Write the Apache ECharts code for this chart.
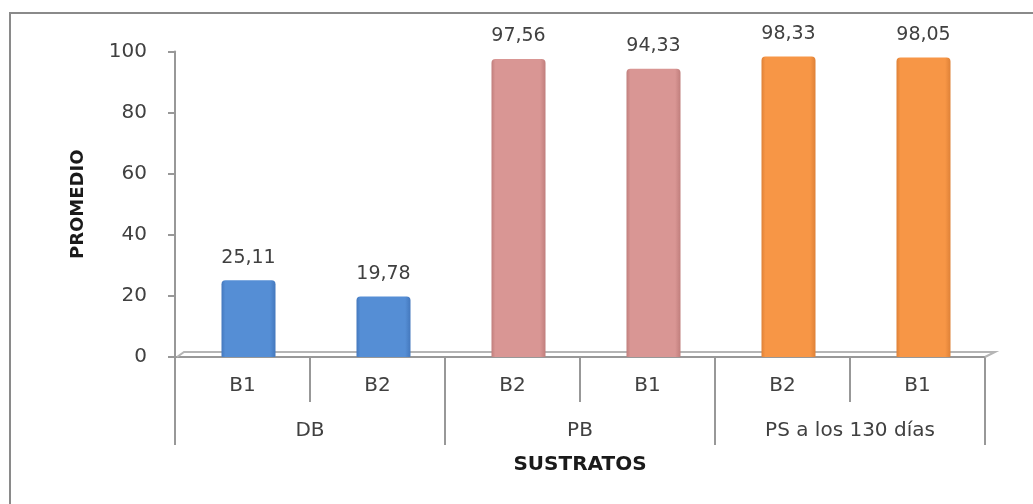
<!DOCTYPE html>
<html>
<head>
<meta charset="utf-8">
<script src="https://cdn.jsdelivr.net/npm/echarts@6/dist/echarts.min.js"></script>
<style>
html,body{margin:0;padding:0;background:#fff;}
#main{width:1033px;height:504px;}
</style>
</head>
<body>
<div id="main"></div>
<script>
// ---- data ----
const groups = ['DB', 'PB', 'PS a los 130 días'];
const subCategories = ['B1', 'B2', 'B2', 'B1', 'B2', 'B1'];
const values = [25.11, 19.78, 97.56, 94.33, 98.33, 98.05];
const barColors = ['#558ED5', '#558ED5', '#D99694', '#D99694', '#F79646', '#F79646'];
const barEdge = ['#4478BD', '#4478BD', '#C07E7C', '#C07E7C', '#DE8137', '#DE8137'];
const yMin = 0, yMax = 100, yInterval = 20;

// ---- layout ----
const G = { left: 175, right: 48, top: 51.5, bottom: 147 };
const W = 1033, H = 504;
const FONT = 'DejaVu Sans';
const TXT = '#404040';
const AX = '#989898';

const chart = echarts.init(document.getElementById('main'));

function grad(i) {
  return new echarts.graphic.LinearGradient(0, 0, 1, 0, [
    { offset: 0, color: barEdge[i] },
    { offset: 0.07, color: barColors[i] },
    { offset: 0.9, color: barColors[i] },
    { offset: 1, color: barEdge[i] }
  ]);
}

const floorY = H - G.bottom;
const xL = G.left, xR = W - G.right;

chart.setOption({
  backgroundColor: '#fff',
  animation: false,
  graphic: [
    { type: 'rect', shape: { x: 10, y: 13, width: 1100, height: 600 },
      style: { fill: 'none', stroke: '#8a8a8a', lineWidth: 2 }, z: -1 },
    { type: 'polyline', shape: { points: [[xL + 2, floorY], [xL + 9, floorY - 5], [xR + 10, floorY - 5], [xR, floorY]] },
      style: { fill: 'none', stroke: '#b5b5b5', lineWidth: 2 }, z: 1 }
  ],
  grid: [
    { left: G.left, right: G.right, top: G.top, bottom: G.bottom },
    { left: G.left + 6, right: G.right - 6, top: G.top, bottom: G.bottom }
  ],
  xAxis: [
    {
      type: 'category', gridIndex: 0, data: subCategories, position: 'bottom',
      axisLine: { show: true, lineStyle: { color: AX, width: 2 } },
      axisTick: { show: true, length: 45, lineStyle: { color: AX, width: 2 } },
      axisLabel: { margin: 19, fontFamily: FONT, fontSize: 20, color: TXT }
    },
    {
      type: 'category', gridIndex: 0, data: groups, position: 'bottom',
      axisLine: { show: false },
      axisTick: { show: true, length: 88, lineStyle: { color: AX, width: 2 } },
      axisLabel: { margin: 64, fontFamily: FONT, fontSize: 20, color: TXT },
      name: 'SUSTRATOS', nameLocation: 'middle', nameGap: 98,
      nameTextStyle: { fontFamily: FONT, fontSize: 20, fontWeight: 'bold', color: '#1a1a1a' }
    },
    {
      type: 'category', gridIndex: 1, data: subCategories, show: false
    }
  ],
  yAxis: [
    {
      type: 'value', gridIndex: 0, min: yMin, max: yMax, interval: yInterval,
      axisLine: { show: true, lineStyle: { color: AX, width: 2 } },
      axisTick: { show: true, length: 7, lineStyle: { color: AX, width: 2 } },
      splitLine: { show: false },
      axisLabel: { margin: 28, fontFamily: FONT, fontSize: 20, color: TXT },
      name: 'PROMEDIO', nameLocation: 'middle', nameGap: 88, nameRotate: 90,
      nameTextStyle: { fontFamily: FONT, fontSize: 18, fontWeight: 'bold', color: '#1a1a1a' }
    },
    {
      type: 'value', gridIndex: 1, min: yMin, max: yMax, interval: yInterval, show: false
    }
  ],
  series: [{
    type: 'bar',
    xAxisIndex: 2, yAxisIndex: 1,
    barWidth: 54,
    data: values.map((v, i) => ({
      value: v,
      itemStyle: { color: grad(i), borderRadius: [4, 4, 1, 1] }
    })),
    label: {
      show: true, position: 'top', distance: 13,
      fontFamily: FONT, fontSize: 19, color: TXT,
      formatter: p => p.value.toFixed(2).replace('.', ',')
    },
    z: 3
  }]
});
</script>
</body>
</html>
